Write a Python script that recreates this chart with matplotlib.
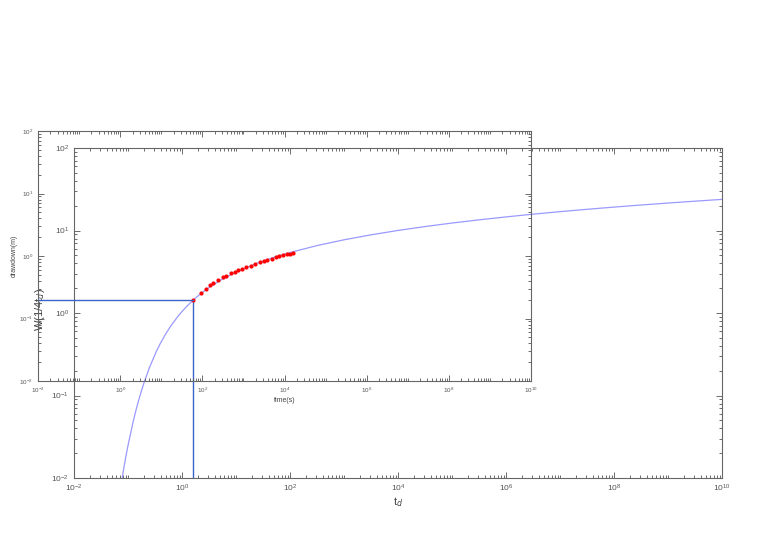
import numpy as np
import matplotlib
matplotlib.use("Agg")
import matplotlib.pyplot as plt
from matplotlib.ticker import LogLocator, NullFormatter

# Theis type curve W(1/4td) read at selected td values
td = [0.0625, 0.0714, 0.0833, 0.0909, 0.1, 0.125, 0.1429, 0.1667, 0.2, 0.25, 0.333, 0.4,
      0.5, 0.625, 0.833, 1.0, 1.25, 1.667, 2.0, 2.5, 3.33, 5, 10, 25, 50, 100, 316,
      1e3, 3162, 1e4, 31623, 1e5, 316228, 1e6, 3.16e6, 1e7, 3.16e7, 1e8, 3.16e8,
      1e9, 3.16e9, 1e10]
W = [0.00378, 0.00697, 0.01305, 0.0180, 0.02491, 0.0489, 0.0696, 0.1, 0.1464, 0.2194,
     0.3403, 0.4330, 0.5598, 0.7024, 0.9057, 1.0443, 1.2227, 1.4645, 1.6234, 1.8229,
     2.0867, 2.4679, 3.1365, 4.0379, 4.726, 5.417, 6.566, 7.717, 8.868, 10.02, 11.17,
     12.32, 13.47, 14.62, 15.78, 16.93, 18.08, 19.23, 20.38, 21.53, 22.69, 23.84]

# measured drawdown data
time_s = [60, 91, 120, 153, 184, 244, 312, 375, 488, 621, 747, 904, 1150, 1497, 1936,
          2518, 3206, 3793, 4853, 6180, 7430, 8990, 11250, 13520, 15740]
drawdown = [0.195, 0.259, 0.300, 0.340, 0.366, 0.408, 0.456, 0.484, 0.529, 0.561, 0.597,
            0.626, 0.667, 0.700, 0.745, 0.793, 0.832, 0.863, 0.905, 0.953, 0.989, 1.026,
            1.064, 1.089, 1.117]

# match point
match_t, match_s = 60, 0.195
match_td, match_W = 1.6, 1.44

plt.rcParams['font.family'] = ['Liberation Sans', 'DejaVu Sans']
fig = plt.figure(figsize=(7.68, 5.43), dpi=100)

def style(ax, fs):
    ax.set_xscale('log')
    ax.set_yscale('log')
    ax.set_xlim(1e-2, 1e10)
    ax.set_ylim(1e-2, 1e2)
    ax.set_xticks([10.0**k for k in range(-2, 11, 2)])
    ax.set_yticks([10.0**k for k in range(-2, 3)])
    ax.xaxis.set_minor_locator(LogLocator(base=10, subs=np.arange(1, 10), numticks=200))
    ax.yaxis.set_minor_locator(LogLocator(base=10, subs=np.arange(2, 10), numticks=200))
    ax.xaxis.set_minor_formatter(NullFormatter())
    ax.yaxis.set_minor_formatter(NullFormatter())
    ax.tick_params(which='both', direction='in', top=True, right=True,
                   labelsize=fs, colors='#555555', width=0.6)
    ax.tick_params(which='major', length=4)
    ax.tick_params(which='minor', length=2)
    for sp in ax.spines.values():
        sp.set_color('#666666')
        sp.set_linewidth(0.8)
    ax.patch.set_alpha(0)

# big axes: type curve
ax1 = fig.add_axes([0.0964, 0.1197, 0.8438, 0.6077])
style(ax1, 6)
ax1.plot(td, W, color='#9a9aff', lw=0.9)
ax1.plot([match_td, match_td], [1e-2, match_W], color='#3b63c8', lw=1.0)
ax1.set_xlabel('t$_d$', fontsize=8, color='#444444', labelpad=1)
ax1.set_ylabel('W(1/4t$_d$)', fontsize=8, color='#444444')
ax1.yaxis.set_label_coords(-0.042, 0.51)

# small axes: measured data
ax2 = fig.add_axes([0.0495, 0.2983, 0.6419, 0.4604])
style(ax2, 4.5)
ax2.plot(time_s, drawdown, 'o', color='red', ms=2.0, mec='red')
ax2.plot([1e-2, match_t], [match_s, match_s], color='#3b63c8', lw=1.0)
ax2.set_xlabel('time(s)', fontsize=5, color='#444444', labelpad=1)
ax2.set_ylabel('drawdown(m)', fontsize=5, color='#444444', labelpad=1)

fig.savefig('out.png', dpi=100, facecolor='white')
